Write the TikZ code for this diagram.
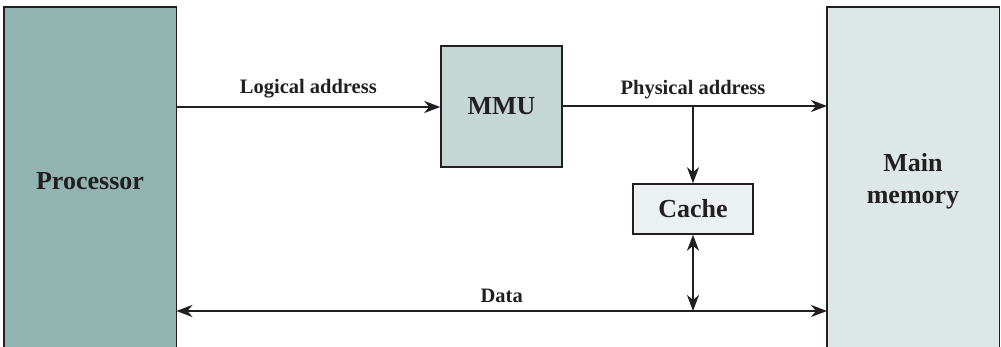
\documentclass[tikz,border=0pt]{standalone}
\usepackage{fontspec}
\setmainfont{Liberation Serif}
\usetikzlibrary{arrows.meta}
\definecolor{procfill}{HTML}{93B5B1}
\definecolor{mmufill}{HTML}{C5D7D4}
\definecolor{cachefill}{HTML}{EAF1F0}
\definecolor{memfill}{HTML}{DDE7E5}
\definecolor{edge}{HTML}{231F20}
\tikzset{
  bigtext/.style={font=\fontsize{26}{30}\selectfont\bfseries, text=edge},
  smalltext/.style={font=\fontsize{20.5}{24}\selectfont\bfseries, text=edge},
  box/.style={draw=edge, line width=1.5pt, inner sep=0pt, bigtext},
  column/.style={inner sep=0pt, minimum width=172pt, minimum height=350pt, align=center, bigtext},
  link/.style={draw=edge, line width=2.4pt, -{Stealth[length=16pt,width=12pt,inset=5pt]}},
  duallink/.style={draw=edge, line width=2.4pt, {Stealth[length=16pt,width=12pt,inset=5pt]}-{Stealth[length=16pt,width=12pt,inset=5pt]}},
}
\begin{document}
\begin{tikzpicture}[x=1pt,y=1pt]
\useasboundingbox (0,0) rectangle (1001,347);
\begin{scope}
\clip (0,0) rectangle (1001,347);
% Processor column
\node[column, fill=procfill, anchor=north west] (proc) at (4,340) {};
\draw[edge, line width=1.5pt] (proc.south west) -- (proc.north west) -- (proc.north east) -- (proc.south east);
\node[bigtext] (proclabel) at (90,166) {Processor};
% Main memory column
\node[column, fill=memfill, anchor=north west] (mem) at (827,340) {};
\draw[edge, line width=1.5pt] (mem.south west) -- (mem.north west) -- (mem.north east) -- (mem.south east);
\node[bigtext, align=center] (memlabel) at (913,166) {Main\\[2pt]memory};
\end{scope}
% MMU
\node[box, fill=mmufill, minimum width=121pt, minimum height=121pt] (mmu) at (501.5,240.5) {MMU};
% Cache
\node[box, fill=cachefill, minimum width=120pt, minimum height=50pt] (cache) at (693,138) {Cache};
% junction coordinates
\coordinate (pa) at (693,241);
\coordinate (da) at (693,36);
% connectors
\draw[link] (proc.east |- 0,240) -- node[smalltext, above=4pt] (logical) {Logical address} (mmu.west |- 0,240);
\draw[link] (mmu.east |- pa) -- (mem.west |- pa);
\node[smalltext, above=4pt] (physical) at (pa) {Physical address};
\draw[link] (pa) -- (cache.north);
\draw[duallink] (proc.east |- da) -- node[smalltext, above=4pt, pos=0.5] (datalabel) {Data} (mem.west |- da);
\draw[duallink] (cache.south) -- (da);
\end{tikzpicture}
\end{document}
